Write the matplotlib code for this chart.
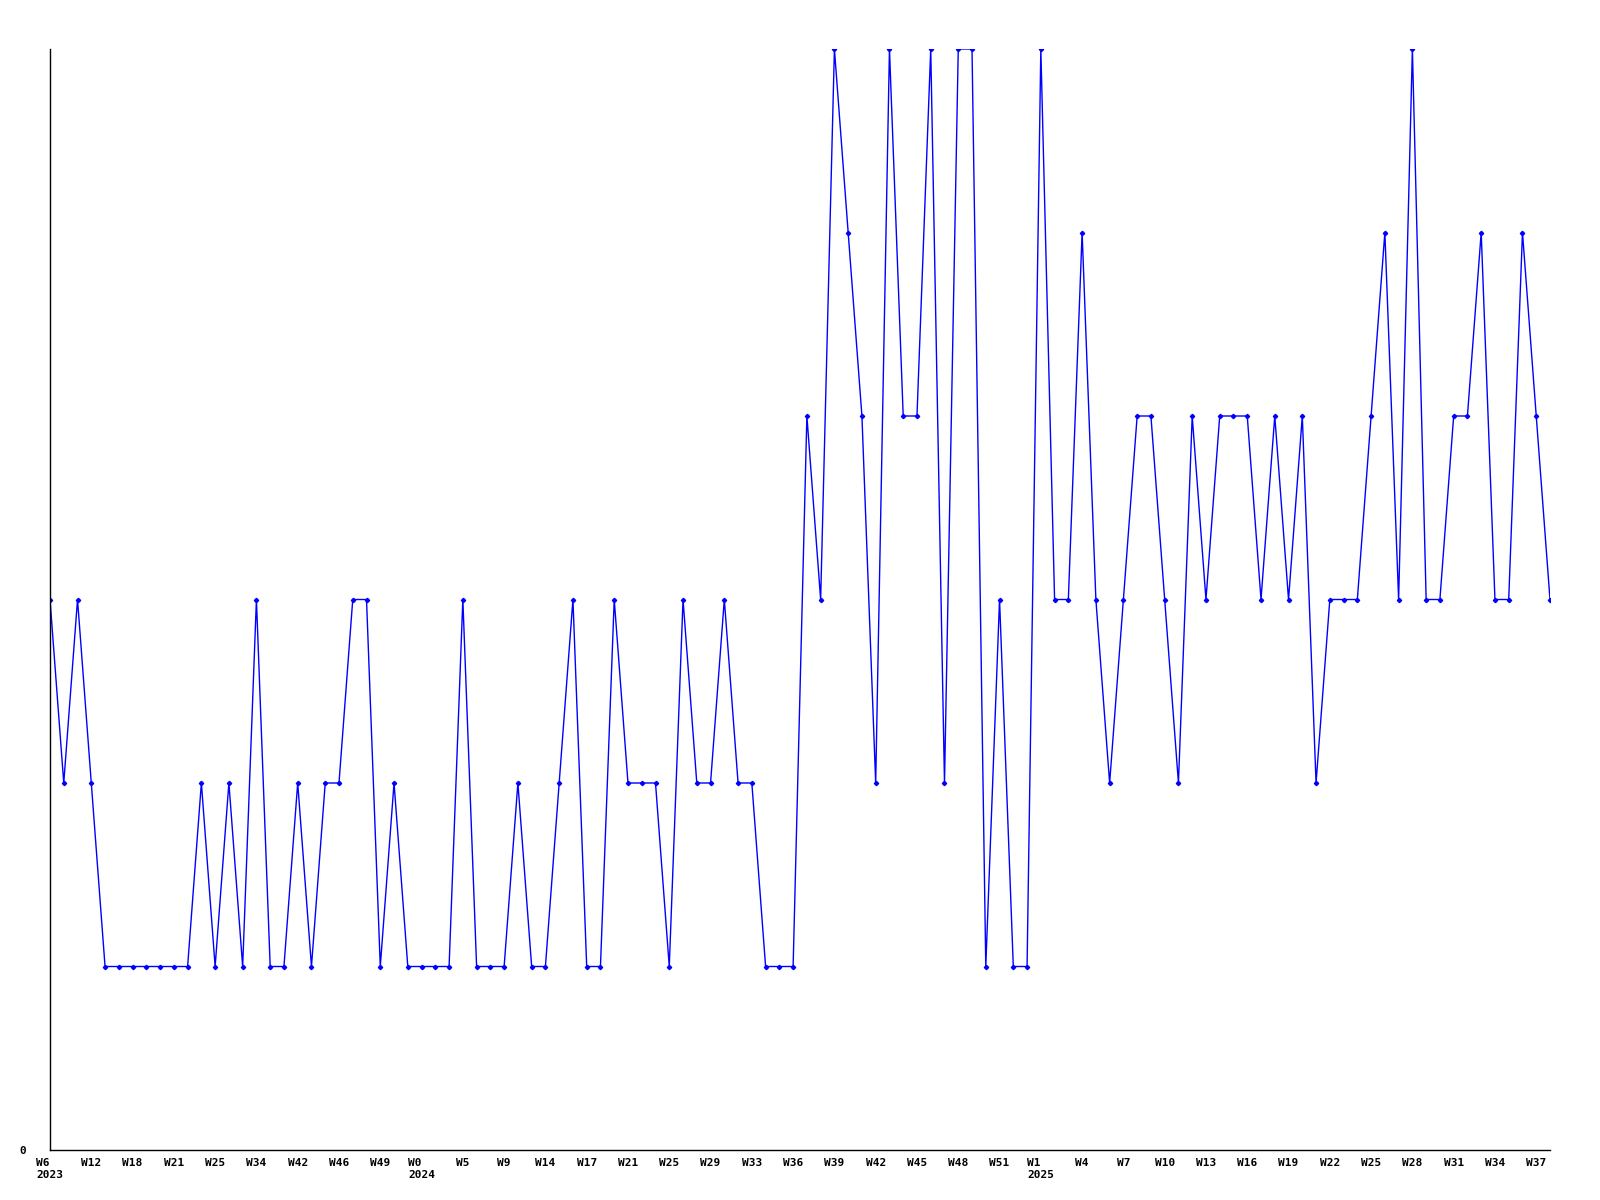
import numpy as np
import matplotlib
matplotlib.use('Agg')
import matplotlib.pyplot as plt

# ---------- DATA ----------
values = [3, 2, 3, 2, 1, 1, 1, 1, 1, 1,
          1, 2, 1, 2, 1, 3, 1, 1, 2, 1,
          2, 2, 3, 3, 1, 2, 1, 1, 1, 1,
          3, 1, 1, 1, 2, 1, 1, 2, 3, 1,
          1, 3, 2, 2, 2, 1, 3, 2, 2, 3,
          2, 2, 1, 1, 1, 4, 3, 6, 5, 4,
          2, 6, 4, 4, 6, 2, 6, 6, 1, 3,
          1, 1, 6, 3, 3, 5, 3, 2, 3, 4,
          4, 3, 2, 4, 3, 4, 4, 4, 3, 4,
          3, 4, 2, 3, 3, 3, 4, 5, 3, 6,
          3, 3, 4, 4, 5, 3, 3, 5, 4, 3]

tick_labels = ['W6\n2023', 'W12', 'W18', 'W21', 'W25', 'W34', 'W42', 'W46', 'W49',
               'W0\n2024', 'W5', 'W9', 'W14', 'W17', 'W21', 'W25', 'W29', 'W33',
               'W36', 'W39', 'W42', 'W45', 'W48', 'W51',
               'W1\n2025', 'W4', 'W7', 'W10', 'W13', 'W16', 'W19', 'W22', 'W25',
               'W28', 'W31', 'W34', 'W37']

x = np.arange(len(values))
tick_pos = x[::3][:len(tick_labels)]

# ---------- PLOT ----------
fig = plt.figure(figsize=(16, 12), dpi=100)
ax = fig.add_axes([50 / 1600, 1 - 1150 / 1200, 1500 / 1600, 1101 / 1200])

ax.plot(x, values, color='#0000ff', linewidth=1.0, marker='D', markersize=2.2,
        markerfacecolor='#0000ff', markeredgecolor='#0000ff')

ax.set_xlim(0, len(values) - 1)
ax.set_ylim(0, 6)

for side in ['top', 'right']:
    ax.spines[side].set_visible(False)
for side in ['left', 'bottom']:
    ax.spines[side].set_color('black')
    ax.spines[side].set_linewidth(1.0)

font = dict(family='DejaVu Sans Mono', weight='bold', size=8)

ax.set_xticks(tick_pos)
ax.set_xticklabels(tick_labels, **font)
for lbl in ax.get_xticklabels():
    lbl.set_multialignment('left')
ax.tick_params(axis='x', length=0, pad=6)

ax.set_yticks([0])
ax.set_yticklabels(['0'], **font)
ax.tick_params(axis='y', length=0, pad=17)

plt.savefig('out.png', dpi=100, facecolor='white')
